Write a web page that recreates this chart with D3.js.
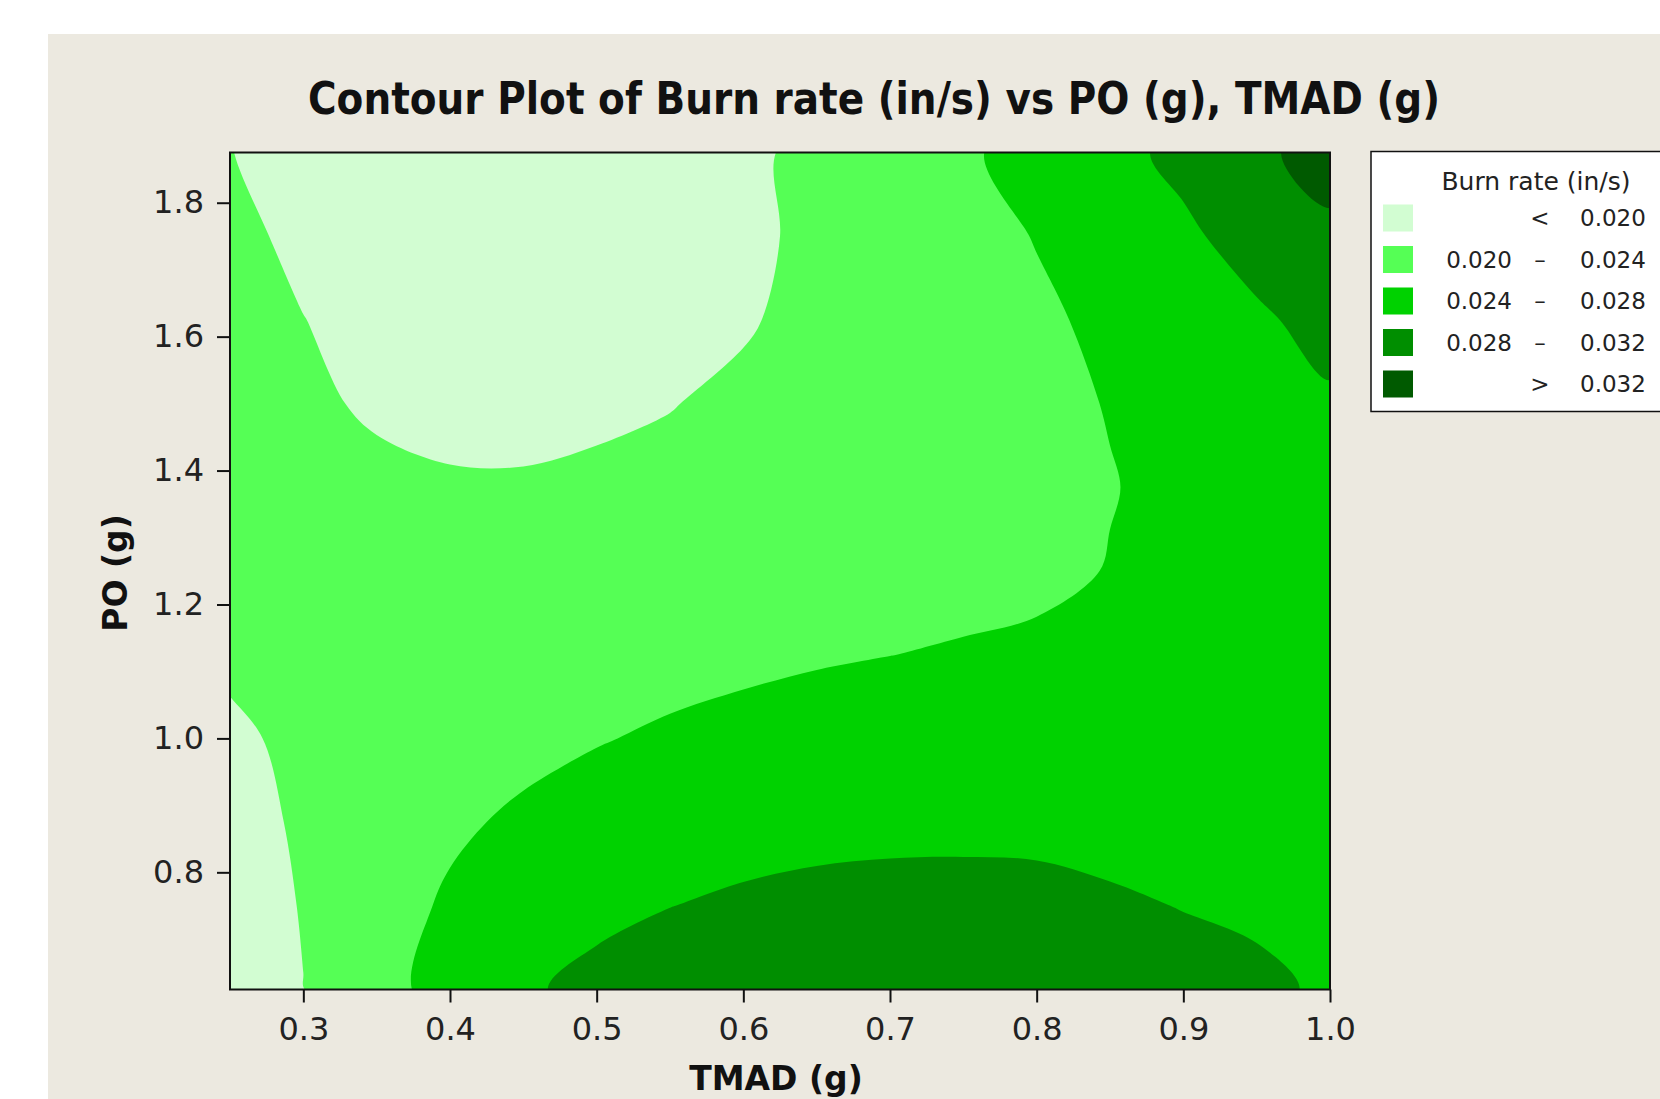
<!DOCTYPE html>
<html>
<head>
<meta charset="utf-8">
<title>Contour Plot of Burn rate</title>
<script src="https://cdn.jsdelivr.net/npm/d3@7"></script>
<style>
    html, body { margin: 0; padding: 0; background: #ffffff; }
    svg { display: block; }
</style>
</head>
<body>
<div id="canvas"></div>
<script>
"use strict"

/* ***** chart data ***** */

// grid columns (TMAD, g) and rows (PO, g); rows run top to bottom like the picture
const tmadValues = [0.25, 0.30, 0.35, 0.40, 0.45, 0.50, 0.55, 0.60, 0.65, 0.70, 0.75, 0.80, 0.85, 0.90, 0.95, 1.00];
const poValues = [1.875, 1.75, 1.625, 1.5, 1.375, 1.25, 1.125, 1.0, 0.875, 0.75, 0.625];

const burnRate = [
    [0.0201, 0.0183, 0.0174, 0.0169, 0.0167, 0.0168, 0.0174, 0.0192, 0.0210, 0.0224, 0.0236, 0.0250, 0.0268, 0.0290, 0.0313, 0.0334],
    [0.0208, 0.0193, 0.0182, 0.0177, 0.0175, 0.0176, 0.0181, 0.0192, 0.0208, 0.0221, 0.0231, 0.0241, 0.0255, 0.0273, 0.0296, 0.0313],
    [0.0210, 0.02005, 0.0190, 0.0185, 0.0183, 0.0184, 0.0188, 0.0197, 0.0209, 0.0220, 0.0229, 0.0236, 0.0245, 0.0256, 0.0274, 0.0293],
    [0.0210, 0.0204, 0.0197, 0.0192, 0.0191, 0.0194, 0.0199, 0.0206, 0.0213, 0.0220, 0.0227, 0.0234, 0.0241, 0.0249, 0.0260, 0.0275],
    [0.0210, 0.0208, 0.0205, 0.0203, 0.0203, 0.0206, 0.0208, 0.0213, 0.0218, 0.0223, 0.0228, 0.0233, 0.0239, 0.0246, 0.0253, 0.0260],
    [0.0208, 0.0210, 0.0211, 0.0212, 0.0213, 0.0215, 0.0217, 0.0220, 0.0223, 0.0226, 0.0229, 0.0234, 0.0241, 0.0245, 0.0248, 0.0250],
    [0.0204, 0.0209, 0.0213, 0.0216, 0.0220, 0.0224, 0.0228, 0.0230, 0.0236, 0.02397, 0.0243, 0.0245, 0.0245, 0.0244, 0.0243, 0.0242],
    [0.0196, 0.0205, 0.0213, 0.0220, 0.0230, 0.0238, 0.0245, 0.0254, 0.0258, 0.0260, 0.0260, 0.0259, 0.0256, 0.0252, 0.0247, 0.0242],
    [0.0189, 0.0204, 0.0219, 0.0234, 0.0246, 0.0256, 0.0262, 0.0265, 0.0269, 0.0270, 0.0270, 0.0269, 0.0263, 0.0262, 0.0256, 0.0248],
    [0.0180, 0.0202, 0.0224, 0.0245, 0.0260, 0.0271, 0.02795, 0.0286, 0.0290, 0.0293, 0.0294, 0.0293, 0.0287, 0.02785, 0.0272, 0.0262],
    [0.0172, 0.01995, 0.0228, 0.0253, 0.0275, 0.0290, 0.0300, 0.0306, 0.0310, 0.0312, 0.0312, 0.0310, 0.0305, 0.0299, 0.0290, 0.0273]
];

const levels = [0.020, 0.024, 0.028, 0.032];
const levelColors = ["#d2fdd2", "#55ff55", "#00d200", "#008e00", "#005a00"];

const legendLow = ["", "0.020", "0.024", "0.028", ""];
const legendSign = ["<", "\u2013", "\u2013", "\u2013", ">"];
const legendHigh = ["0.020", "0.024", "0.028", "0.032", "0.032"];

const xTicks = [0.3, 0.4, 0.5, 0.6, 0.7, 0.8, 0.9, 1.0];
const yTicks = [0.8, 1.0, 1.2, 1.4, 1.6, 1.8];

/* ***** canvas ***** */

let drawing = d3.select("#canvas")
    .append("svg")
    .attr("width", 1660)
    .attr("height", 1099)
    .style("font-family", "'DejaVu Sans', Verdana, sans-serif");

drawing.append("rect")
    .attr("width", 1660)
    .attr("height", 1099)
    .attr("fill", "#ffffff");

// beige panel, runs off the right and bottom edge
drawing.append("rect")
    .attr("x", 48)
    .attr("y", 34)
    .attr("width", 1612)
    .attr("height", 1065)
    .attr("fill", "#ece9e0");

let x = d3.scaleLinear().domain([0.25, 1.0]).range([230, 1330]);
let y = d3.scaleLinear().domain([0.625, 1.875]).range([989.5, 152.5]);

/* ***** contour bands ***** */

let nx = tmadValues.length;
let ny = poValues.length;

let bands = d3.contours()
    .size([nx, ny])
    .thresholds(levels)(burnRate.flat());

// d3.contours puts value i at grid coordinate i + 0.5
let gx = d3.scaleLinear().domain([0.5, nx - 0.5]).range([x(tmadValues[0]), x(tmadValues[nx - 1])]);
let gy = d3.scaleLinear().domain([0.5, ny - 0.5]).range([y(poValues[0]), y(poValues[ny - 1])]);

let ringLine = d3.line()
    .x(p => gx(p[0]))
    .y(p => gy(p[1]))
    .curve(d3.curveCatmullRomClosed.alpha(0.5));

function bandPath(multi) {
    return multi.coordinates
        .map(polygon => polygon.map(ring => ringLine(ring.slice(0, -1))).join(""))
        .join("");
}

drawing.append("clipPath")
    .attr("id", "plotClip")
    .append("rect")
    .attr("x", x(0.25))
    .attr("y", y(1.875))
    .attr("width", x(1.0) - x(0.25))
    .attr("height", y(0.625) - y(1.875));

let plot = drawing.append("g").attr("clip-path", "url(#plotClip)");

plot.append("rect")
    .attr("x", x(0.25))
    .attr("y", y(1.875))
    .attr("width", x(1.0) - x(0.25))
    .attr("height", y(0.625) - y(1.875))
    .attr("fill", levelColors[0]);

plot.selectAll("path.band")
    .data(bands)
    .enter()
    .append("path")
    .attr("class", "band")
    .attr("d", d => bandPath(d))
    .attr("fill", (d, i) => levelColors[i + 1])
    .attr("fill-rule", "evenodd");

drawing.append("rect")
    .attr("x", x(0.25))
    .attr("y", y(1.875))
    .attr("width", x(1.0) - x(0.25))
    .attr("height", y(0.625) - y(1.875))
    .attr("fill", "none")
    .attr("stroke", "#111111")
    .attr("stroke-width", 2);

/* ***** axes ***** */

let xAxis = drawing.append("g")
    .attr("transform", `translate(0,${y(0.625)})`)
    .call(d3.axisBottom(x).tickValues(xTicks).tickSize(13).tickPadding(15).tickFormat(d3.format(".1f")));

let yAxis = drawing.append("g")
    .attr("transform", `translate(${x(0.25)},0)`)
    .call(d3.axisLeft(y).tickValues(yTicks).tickSize(13).tickPadding(13).tickFormat(d3.format(".1f")));

[xAxis, yAxis].forEach(axis => {
    axis.select(".domain").remove();
    axis.selectAll(".tick line").attr("stroke", "#111111").attr("stroke-width", 2);
    axis.selectAll(".tick text")
        .attr("fill", "#222222")
        .style("font-family", "'DejaVu Sans', Verdana, sans-serif")
        .style("font-size", "32px");
});

/* ***** titles ***** */

drawing.append("text")
    .attr("x", 874)
    .attr("y", 114)
    .attr("text-anchor", "middle")
    .attr("textLength", 1132)
    .attr("lengthAdjust", "spacingAndGlyphs")
    .attr("font-size", 44)
    .attr("font-weight", "bold")
    .attr("fill", "#111111")
    .text("Contour Plot of Burn rate (in/s) vs PO (g), TMAD (g)");

drawing.append("text")
    .attr("x", 776)
    .attr("y", 1090)
    .attr("text-anchor", "middle")
    .attr("font-size", 33)
    .attr("font-weight", "bold")
    .attr("fill", "#111111")
    .text("TMAD (g)");

drawing.append("text")
    .attr("transform", "translate(127,573) rotate(-90)")
    .attr("text-anchor", "middle")
    .attr("font-size", 33)
    .attr("font-weight", "bold")
    .attr("fill", "#111111")
    .text("PO (g)");

/* ***** legend ***** */

let legend = drawing.append("g");

legend.append("rect")
    .attr("x", 1371)
    .attr("y", 151.5)
    .attr("width", 400)
    .attr("height", 260)
    .attr("fill", "#ffffff")
    .attr("stroke", "#111111")
    .attr("stroke-width", 1.5);

legend.append("text")
    .attr("x", 1536)
    .attr("y", 190)
    .attr("text-anchor", "middle")
    .attr("font-size", 25)
    .attr("fill", "#222222")
    .text("Burn rate (in/s)");

let rowY = d3.scaleLinear().domain([0, 4]).range([218, 384]);

let rows = legend.selectAll("g.row")
    .data(levelColors)
    .enter()
    .append("g")
    .attr("class", "row")
    .attr("transform", (d, i) => `translate(0,${rowY(i)})`);

rows.append("rect")
    .attr("x", 1383)
    .attr("y", -13.5)
    .attr("width", 30)
    .attr("height", 27)
    .attr("fill", d => d);

rows.append("text")
    .attr("x", 1512)
    .attr("y", 8)
    .attr("text-anchor", "end")
    .attr("font-size", 23)
    .attr("fill", "#222222")
    .text((d, i) => legendLow[i]);

rows.append("text")
    .attr("x", 1540)
    .attr("y", 8)
    .attr("text-anchor", "middle")
    .attr("font-size", 23)
    .attr("fill", "#222222")
    .text((d, i) => legendSign[i]);

rows.append("text")
    .attr("x", 1580)
    .attr("y", 8)
    .attr("text-anchor", "start")
    .attr("font-size", 23)
    .attr("fill", "#222222")
    .text((d, i) => legendHigh[i]);
</script>
</body>
</html>
